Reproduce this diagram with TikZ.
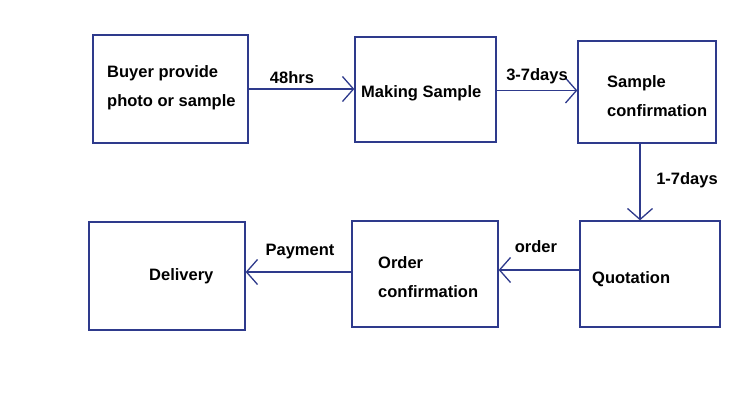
\documentclass[tikz,border=0pt]{standalone}
\usepackage{fontspec}
\setmainfont{Liberation Sans}
\usetikzlibrary{arrows.meta}

\definecolor{boxblue}{HTML}{2E3A8C}

\tikzset{
  box/.style={draw=boxblue, line width=1.3pt, rectangle, minimum width=#1},
  txt/.style={font=\fontsize{16.5}{29}\selectfont\bfseries, align=left, inner sep=0pt, anchor=west},
  lbl/.style={font=\fontsize{16.5}{20}\selectfont\bfseries, inner sep=0pt},
  arr/.style={draw=boxblue, line width=1.3pt, -{Straight Barb[length=11pt,width=25pt,line width=1.3pt]}}
}

\begin{document}
\begin{tikzpicture}[x=1pt,y=-1pt]

  \useasboundingbox (0,0) rectangle (745,408);

  % --- top row ---
  \node[box=155pt, minimum height=108pt] (buyer) at (170.5,89) {};
  \node[box=141pt, minimum height=105pt] (mk) at (425.5,89.5) {};
  \node[box=138pt, minimum height=102pt] (smp) at (647,92) {};

  \node[txt] (buyertxt) at (107,88) {Buyer provide\\photo or sample};
  \node[txt] (mktxt) at (361,93) {Making Sample};
  \node[txt] (smptxt) at (607,96) {Sample\\confirmation};

  % --- bottom row ---
  \node[box=140pt, minimum height=106pt] (quot) at (650,274) {};
  \node[box=146pt, minimum height=106pt] (ordc) at (425,274) {};
  \node[box=156pt, minimum height=108pt] (deliv) at (167,276) {};

  \node[txt] (quottxt) at (592,279) {Quotation};
  \node[txt] (ordctxt) at (378,277) {Order\\confirmation};
  \node[txt] (delivtxt) at (149,276) {Delivery};

  % --- connectors ---
  \coordinate (v) at (640,0);
  \draw[arr] (buyer.east) -- (buyer.east -| mk.west);
  \draw[arr] ([yshift=-1pt]mk.east) -- ([yshift=-1pt]mk.east -| smp.west);
  \draw[arr] (smp.south -| v) -- (quot.north -| v);
  \draw[arr] ([yshift=4pt]quot.west) -- ([yshift=4pt]quot.west -| ordc.east);
  \draw[arr] ([yshift=2pt]ordc.west) -- ([yshift=2pt]ordc.west -| deliv.east);

  % --- labels ---
  \node[lbl] (l48) at (292,78) {48hrs};
  \node[lbl] (l37) at (537,76) {3-7days};
  \node[lbl] (l17) at (687,180) {1-7days};
  \node[lbl] (lorder) at (536,247) {order};
  \node[lbl] (lpay) at (300,252) {Payment};

\end{tikzpicture}
\end{document}
